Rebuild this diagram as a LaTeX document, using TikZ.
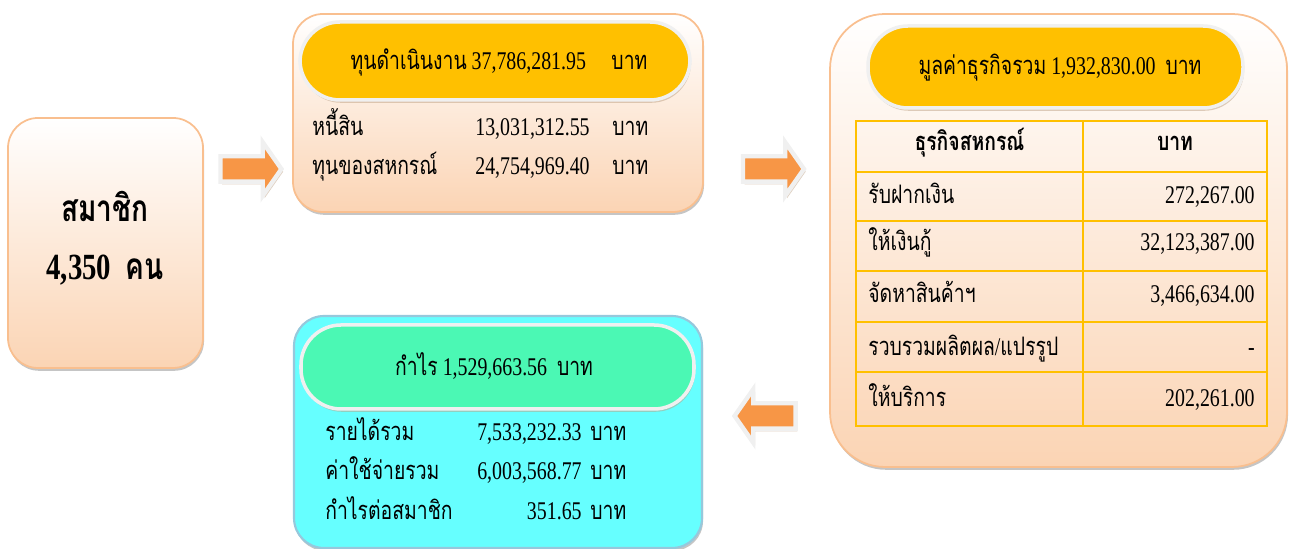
\documentclass[tikz,border=0pt]{standalone}
\usepackage{fontspec}
\setmainfont[FakeStretch=0.78]{Liberation Serif}
\newfontfamily\thaifont[Script=Thai, FakeStretch=0.76]{Loma}
\usetikzlibrary{shapes.arrows,shadows}
\definecolor{peach}{RGB}{251,212,180}
\definecolor{peachline}{RGB}{249,191,143}
\definecolor{gold}{RGB}{255,192,0}
\definecolor{mint}{RGB}{75,248,180}
\definecolor{aqua}{RGB}{102,255,255}
\definecolor{aqualine}{RGB}{150,200,220}
\definecolor{arrowc}{RGB}{247,150,70}
\definecolor{shade}{RGB}{190,160,130}
\newcommand{\tx}[1]{{\thaifont #1}}
\tikzset{
  peachbox/.style={draw=peachline, line width=1pt, top color=white, bottom color=peach,
    drop shadow={shadow xshift=0.6pt, shadow yshift=-1.6pt, fill=black!45}},
  pill/.style={draw=white!94!black, line width=2pt, rounded corners=0.8cm,
    drop shadow={shadow xshift=0.6pt, shadow yshift=-1.6pt, fill=shade}},
  txt/.style={font=\fontsize{14.5}{17}\selectfont, inner sep=0pt},
  bigtxt/.style={font=\fontsize{21}{25}\selectfont\bfseries, inner sep=0pt},
  blockarrow/.style={single arrow, fill=arrowc, draw=white!94!black, line width=2.5pt,
    minimum height=1.22cm, inner xsep=0pt, inner ysep=0.21cm, single arrow head extend=0.28cm,
    single arrow tip angle=110,
    drop shadow={shadow xshift=1pt, shadow yshift=-1.5pt, fill=shade}},
  tableline/.style={draw=gold, line width=1.5pt}
}
\begin{document}
\begin{tikzpicture}
    \useasboundingbox (0,0) rectangle (25.8,10.98);

                        % members
                        \node (member) at (2.11,6.12) [peachbox, rounded corners=0.6cm, minimum width=3.9cm, minimum height=5cm] {};
                        \node (membername) at (2.1,6.54) [bigtxt, anchor=base] {\tx{สมาชิก}};
                        \node (membercount) at (2.1,5.38) [bigtxt, anchor=base] {4,350\ \ \tx{คน}};

                        % working capital
                        \node (fund) at (9.96,8.72) [peachbox, rounded corners=0.6cm, minimum width=8.2cm, minimum height=3.96cm] {};
                        \node (fundpill) at (9.9,9.76) [pill, fill=gold, minimum width=7.8cm, minimum height=1.56cm] {};
                        \node (fundtitle) at (9.98,9.58) [txt, anchor=base] {\tx{ทุนดำเนินงาน} 37,786,281.95\quad\tx{บาท}};
                        \node (debt) at (6.24,8.26) [txt, anchor=base west] {\tx{หนี้สิน}};
                        \node (debtval) at (11.8,8.26) [txt, anchor=base east] {13,031,312.55};
                        \node (debtunit) at (12.24,8.26) [txt, anchor=base west] {\tx{บาท}};
                        \node (equity) at (6.24,7.48) [txt, anchor=base west] {\tx{ทุนของสหกรณ์}};
                        \node (equityval) at (11.8,7.48) [txt, anchor=base east] {24,754,969.40};
                        \node (equityunit) at (12.24,7.48) [txt, anchor=base west] {\tx{บาท}};

                        % business
                        \node (business) at (21.17,6.17) [peachbox, rounded corners=1.1cm, minimum width=9.14cm, minimum height=9.06cm] {};
                        \node (businesspill) at (21.11,9.64) [pill, fill=gold, minimum width=7.5cm, minimum height=1.64cm] {};
                        \node (businesstitle) at (21.2,9.48) [txt, anchor=base] {\tx{มูลค่าธุรกิจรวม} 1,932,830.00\ \ \tx{บาท}};
                        \draw [tableline] (17.12,8.56) rectangle (25.34,2.46);
                        \draw [tableline] (21.66,8.56) -- (21.66,2.46);
                        \draw [tableline] (17.12,7.54) -- (25.34,7.54) (17.12,6.56) -- (25.34,6.56);
                        \draw [tableline] (17.12,5.56) -- (25.34,5.56) (17.12,4.54) -- (25.34,4.54);
                        \draw [tableline] (17.12,3.54) -- (25.34,3.54);
                        \node (headkind) at (19.39,7.96) [txt, anchor=base, font=\fontsize{14.5}{17}\selectfont\bfseries] {\tx{ธุรกิจสหกรณ์}};
                        \node (headbaht) at (23.5,7.96) [txt, anchor=base, font=\fontsize{14.5}{17}\selectfont\bfseries] {\tx{บาท}};
                        \node (deposit) at (17.36,6.90) [txt, anchor=base west] {\tx{รับฝากเงิน}};
                        \node (depositval) at (25.1,6.90) [txt, anchor=base east] {272,267.00};
                        \node (loan) at (17.36,5.96) [txt, anchor=base west] {\tx{ให้เงินกู้}};
                        \node (loanval) at (25.1,5.96) [txt, anchor=base east] {32,123,387.00};
                        \node (supply) at (17.36,4.92) [txt, anchor=base west] {\tx{จัดหาสินค้าฯ}};
                        \node (supplyval) at (25.1,4.92) [txt, anchor=base east] {3,466,634.00};
                        \node (collect) at (17.36,3.86) [txt, anchor=base west] {\tx{รวบรวมผลิตผล}/\tx{แปรรูป}};
                        \node (collectval) at (25.1,3.86) [txt, anchor=base east] {-};
                        \node (service) at (17.36,2.84) [txt, anchor=base west] {\tx{ให้บริการ}};
                        \node (serviceval) at (25.1,2.84) [txt, anchor=base east] {202,261.00};

                        % profit
                        \node (profit) at (9.96,2.34) [draw=aqualine, line width=1.2pt, fill=aqua, rounded corners=0.6cm, minimum width=8.16cm, minimum height=4.64cm,
                          drop shadow={shadow xshift=0.6pt, shadow yshift=-1.6pt, fill=black!45}] {};
                        \node (profitpill) at (9.95,3.64) [pill, fill=mint, minimum width=7.86cm, minimum height=1.68cm] {};
                        \node (profittitle) at (9.88,3.46) [txt, anchor=base] {\tx{กำไร} 1,529,663.56\ \ \tx{บาท}};
                        \node (income) at (6.5,2.16) [txt, anchor=base west] {\tx{รายได้รวม}};
                        \node (incomeval) at (11.64,2.16) [txt, anchor=base east] {7,533,232.33};
                        \node (incomeunit) at (11.8,2.16) [txt, anchor=base west] {\tx{บาท}};
                        \node (expense) at (6.5,1.38) [txt, anchor=base west] {\tx{ค่าใช้จ่ายรวม}};
                        \node (expenseval) at (11.64,1.38) [txt, anchor=base east] {6,003,568.77};
                        \node (expenseunit) at (11.8,1.38) [txt, anchor=base west] {\tx{บาท}};
                        \node (permember) at (6.5,0.58) [txt, anchor=base west] {\tx{กำไรต่อสมาชิก}};
                        \node (permemberval) at (11.64,0.58) [txt, anchor=base east] {351.65};
                        \node (permemberunit) at (11.8,0.58) [txt, anchor=base west] {\tx{บาท}};

                        % arrows
                        \node (arrowa) at (4.93,7.6) [blockarrow] {};
                        \node (arrowb) at (15.38,7.6) [blockarrow] {};
                        \node (arrowc) at (15.39,2.66) [blockarrow, shape border rotate=180] {};

\end{tikzpicture}
\end{document}
